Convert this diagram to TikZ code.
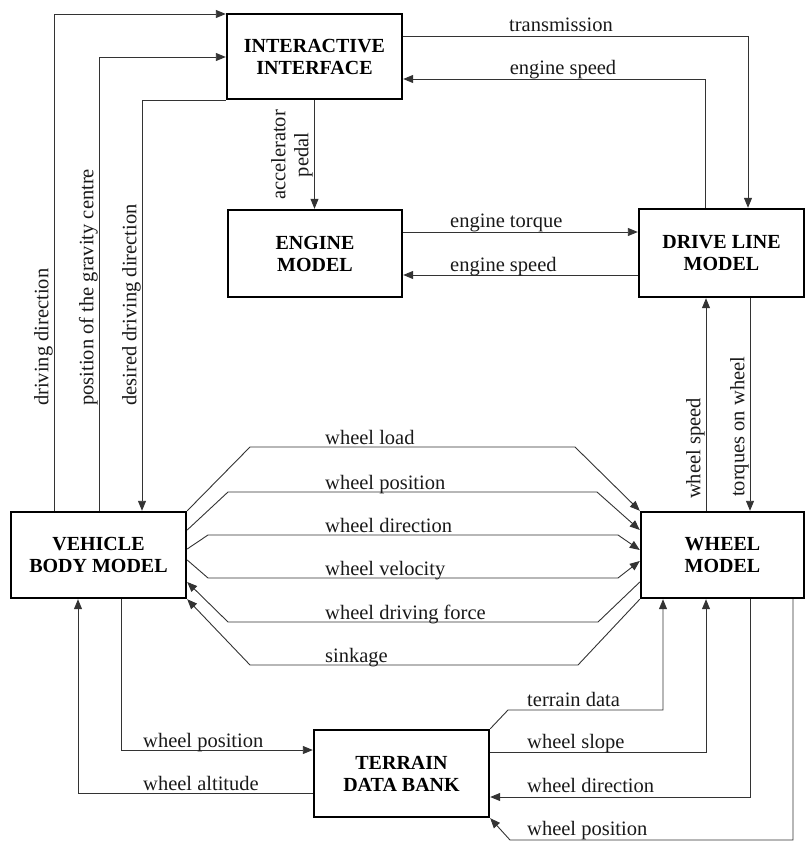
\documentclass[tikz,border=0pt]{standalone}
\usepackage{fontspec}
\setmainfont{Liberation Serif}
\usetikzlibrary{arrows.meta}
\begin{document}
\begin{tikzpicture}[x=1pt,y=-1pt,
  box/.style={draw=black, line width=2.4pt, align=center, inner sep=0pt,
    font=\fontsize{20}{22}\selectfont\bfseries},
  wire/.style={draw=black!80, line width=0.9pt},
  flow/.style={wire, -{Triangle[length=10pt,width=8pt]}},
  lbl/.style={font=\fontsize{20.5}{23}\selectfont, inner sep=0pt, text=black!90},
  vlbl/.style={lbl, rotate=90, inner sep=1pt},
]
\useasboundingbox (0,0) rectangle (806,842);

% model blocks
\node[box, minimum width=175pt, minimum height=85pt] (ii)  at (314.5,56.5) {INTERACTIVE\\INTERFACE};
\node[box, minimum width=174pt, minimum height=87pt] (em)  at (315,253.5)  {ENGINE\\MODEL};
\node[box, minimum width=165pt, minimum height=88pt] (dl)  at (721.5,253)  {DRIVE LINE\\MODEL};
\node[box, minimum width=175pt, minimum height=86pt] (vb)  at (98.5,555)   {VEHICLE\\BODY MODEL};
\node[box, minimum width=163pt, minimum height=86pt] (wm)  at (722.5,555)  {WHEEL\\MODEL};
\node[box, minimum width=175pt, minimum height=87pt] (tdb) at (401.5,773.5) {TERRAIN\\DATA BANK};

% vehicle body <-> interactive interface
\draw[flow] (vb.north -| 54,0) -- (54,14) -- (ii.west |- 0,14);
\draw[flow] (vb.north -| 99,0) -- (99,57) -- (ii.west |- 0,57);
\draw[flow] (ii.south west) -| (vb.north -| 142,0);
\node[vlbl, anchor=south west] at (54,407) {driving direction};
\node[vlbl, anchor=south west] at (99,407) {position of the gravity centre};
\node[vlbl, anchor=south west] at (142,407) {desired driving direction};

% interactive interface -> engine
\draw[flow] (ii.south) -- (ii.south |- em.north);
\node[vlbl, anchor=south, align=center, inner sep=1pt] at (314,155) {accelerator\\pedal};

% interactive interface <-> drive line
\draw[flow] (ii.east |- 0,36) -| (dl.north -| 748,0);
\node[lbl, anchor=base] at (561,32) {transmission};
\draw[flow] (dl.north -| 705,0) |- (ii.east |- 0,79);
\node[lbl, anchor=base] at (563,75) {engine speed};

% engine <-> drive line
\draw[flow] (em.east |- 0,232) -- (dl.west |- 0,232);
\node[lbl, anchor=base west] at (450,228) {engine torque};
\draw[flow] (dl.west |- 0,275) -- (em.east |- 0,275);
\node[lbl, anchor=base west] at (450,271) {engine speed};

% drive line <-> wheel
\draw[flow] (wm.north -| 706,0) -- (dl.south -| 706,0);
\draw[flow] (dl.south -| 750,0) -- (wm.north -| 750,0);
\node[vlbl, anchor=south west] at (706,500) {wheel speed};
\node[vlbl, anchor=south west] at (750,498) {torques on wheel};

% vehicle body <-> wheel
\draw[flow] (vb.north east) -- (250,447) -- (575,447) -- (wm.north west);
\draw[flow] (vb.east |- 0,530) -- (228,492) -- (597,492) -- (wm.west |- 0,530);
\draw[flow] (vb.east |- 0,549) -- (208,535) -- (618,535) -- (wm.west |- 0,550);
\draw[flow] (vb.east |- 0,560) -- (208,578) -- (618,578) -- (wm.west |- 0,561);
\draw[flow] (wm.west |- 0,582) -- (598,622) -- (228,622) -- (vb.east |- 0,582);
\draw[flow] (wm.south west) -- (578,665) -- (250,665) -- (vb.south east);
\node[lbl, anchor=base west] at (325,444) {wheel load};
\node[lbl, anchor=base west] at (325,489) {wheel position};
\node[lbl, anchor=base west] at (325,532) {wheel direction};
\node[lbl, anchor=base west] at (325,575) {wheel velocity};
\node[lbl, anchor=base west] at (325,619) {wheel driving force};
\node[lbl, anchor=base west] at (325,662) {sinkage};

% vehicle body <-> terrain data bank
\draw[flow] (vb.south -| 121,0) |- (tdb.west |- 0,750);
\node[lbl, anchor=base west] at (143,747) {wheel position};
\draw[flow] (tdb.west |- 0,793) -| (vb.south -| 78,0);
\node[lbl, anchor=base west] at (143,790) {wheel altitude};

% terrain data bank <-> wheel
\draw[flow] (tdb.north east) -- (508,710) -| (wm.south -| 663,0);
\node[lbl, anchor=base west] at (527,706) {terrain data};
\draw[flow] (tdb.east |- 0,752) -| (wm.south -| 706,0);
\node[lbl, anchor=base west] at (527,748) {wheel slope};
\draw[flow] (wm.south -| 750,0) |- (tdb.east |- 0,797);
\node[lbl, anchor=base west] at (527,792) {wheel direction};
\draw[flow] (wm.south -| 793,0) -- (793,840) -- (510,840) -- (tdb.south east);
\node[lbl, anchor=base west] at (527,835) {wheel position};
\end{tikzpicture}
\end{document}
